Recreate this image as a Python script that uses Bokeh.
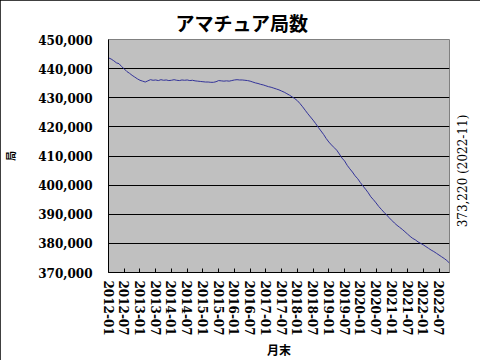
import math
from bokeh.plotting import figure
from bokeh.models import Range1d, FixedTicker, LinearAxis
from bokeh.embed import file_html
from bokeh.resources import INLINE

# monthly station counts, 2012-01 .. 2022-11
stations = [
    443700, 443300, 442700, 442000, 441700, 440700, 439900, 439000, 438400, 437700,
    437100, 436500, 436000, 435700, 435400, 435800, 436200, 436000, 436100, 435900,
    436200, 436000, 436100, 435900, 436000, 436200, 436000, 435900, 436100, 436000,
    436100, 435900, 436000, 435800, 435700, 435600, 435500, 435400, 435400, 435300,
    435300, 435500, 435900, 435800, 435700, 435800, 435700, 435900, 436100, 436200,
    436100, 436100, 436000, 435900, 435700, 435400, 435100, 434900, 434600, 434400,
    434100, 433800, 433600, 433300, 433000, 432700, 432300, 431900, 431400, 430900,
    430300, 429700, 429000, 428000, 426900, 425700, 424500, 423400, 422300, 421100,
    419800, 418600, 417400, 416000, 414800, 413800, 412900, 412000, 410700, 409300,
    408300, 406800, 405600, 404500, 403200, 402200, 400900, 399700, 398600, 397400,
    396000, 395000, 393900, 392700, 391700, 390700, 389800, 388800, 387900, 387000,
    386200, 385500, 384800, 384000, 383200, 382400, 381700, 381200, 380500, 380000,
    379500, 378900, 378300, 377700, 377200, 376600, 376000, 375400, 374800, 374100,
    373220,
]
last_month = "2022-11"
last_value_label = "373,220"

x_tick_labels = [
    "2012-01", "2012-07", "2013-01", "2013-07", "2014-01", "2014-07",
    "2015-01", "2015-07", "2016-01", "2016-07", "2017-01", "2017-07",
    "2018-01", "2018-07", "2019-01", "2019-07", "2020-01", "2020-07",
    "2021-01", "2021-07", "2022-01", "2022-07",
]
y_ticks = [370000, 380000, 390000, 400000, 410000, 420000, 430000, 440000, 450000]
y_tick_labels = ["370,000", "380,000", "390,000", "400,000", "410,000",
                 "420,000", "430,000", "440,000", "450,000"]

title_text = "アマチュア局数"
x_title = "月末"
y_title = "局"

months = list(range(len(stations)))
x_ticks = [i * 6 for i in range(len(x_tick_labels))]

# where the vertical note starts (it runs upward from here)
NOTE_ANCHOR = 385500

SERIF = "DejaVu Serif"
CJK = "Noto Sans CJK JP"

p = figure(width=480, height=360, output_backend="svg", toolbar_location=None,
           x_range=Range1d(0, len(stations) - 1),
           y_range=Range1d(y_ticks[0], y_ticks[-1]),
           min_border_left=105, min_border_right=22,
           min_border_top=39, min_border_bottom=87)
p.background_fill_color = "#C0C0C0"
p.border_fill_color = "white"
p.outline_line_color = "#808080"
p.outline_line_width = 1
p.styles = {"outline": "1px solid black", "outline-offset": "-1px"}

p.title.text = title_text
p.title.text_font = CJK
p.title.text_font_size = "19px"
p.title.text_font_style = "bold"
p.title.text_color = "black"
p.title.align = "left"
p.title.offset = 67
p.title.standoff = 7

p.line(months, stations, line_color="#333399", line_width=1)

# grids
p.xgrid.grid_line_color = None
p.ygrid.ticker = FixedTicker(ticks=y_ticks)
p.ygrid.grid_line_color = "black"
p.ygrid.grid_line_width = 1

# x axis
xa = p.xaxis[0]
xa.ticker = FixedTicker(ticks=x_ticks)
xa.major_label_overrides = {t: l for t, l in zip(x_ticks, x_tick_labels)}
xa.major_label_orientation = "vertical"
xa.major_label_text_font = SERIF
xa.major_label_text_font_style = "bold"
xa.major_label_text_font_size = "12px"
xa.major_label_text_color = "black"
xa.major_label_standoff = 8
xa.major_tick_in = 4
xa.major_tick_out = 0
xa.major_tick_line_color = "black"
xa.minor_tick_line_color = None
xa.axis_line_color = "black"
xa.axis_label = x_title
xa.axis_label_text_font = CJK
xa.axis_label_text_font_style = "bold"
xa.axis_label_text_font_size = "12px"
xa.axis_label_text_color = "black"
xa.axis_label_standoff = 2

# y axis
ya = p.yaxis[0]
ya.ticker = FixedTicker(ticks=y_ticks)
ya.major_label_overrides = {t: l for t, l in zip(y_ticks, y_tick_labels)}
ya.major_label_text_font = SERIF
ya.major_label_text_font_style = "bold"
ya.major_label_text_font_size = "12px"
ya.major_label_text_color = "black"
ya.major_label_standoff = 16
ya.major_tick_in = 0
ya.major_tick_out = 0
ya.minor_tick_line_color = None
ya.axis_line_color = "black"
ya.axis_label = y_title
ya.axis_label_text_font = CJK
ya.axis_label_text_font_style = "bold"
ya.axis_label_text_font_size = "10px"
ya.axis_label_text_color = "black"
ya.axis_label_standoff = 17

# last value note, as a tick label of an otherwise empty right-hand axis
ra = LinearAxis(ticker=FixedTicker(ticks=[NOTE_ANCHOR]))
ra.major_label_overrides = {NOTE_ANCHOR: f"{last_value_label} ({last_month})"}
ra.major_label_orientation = math.pi / 2
ra.major_label_text_font = SERIF
ra.major_label_text_font_style = "normal"
ra.major_label_text_font_size = "12px"
ra.major_label_text_color = "black"
ra.major_label_standoff = 8
ra.axis_line_color = None
ra.major_tick_line_color = None
ra.minor_tick_line_color = None
p.add_layout(ra, "right")

open("out.html", "w").write(file_html(p, INLINE))
